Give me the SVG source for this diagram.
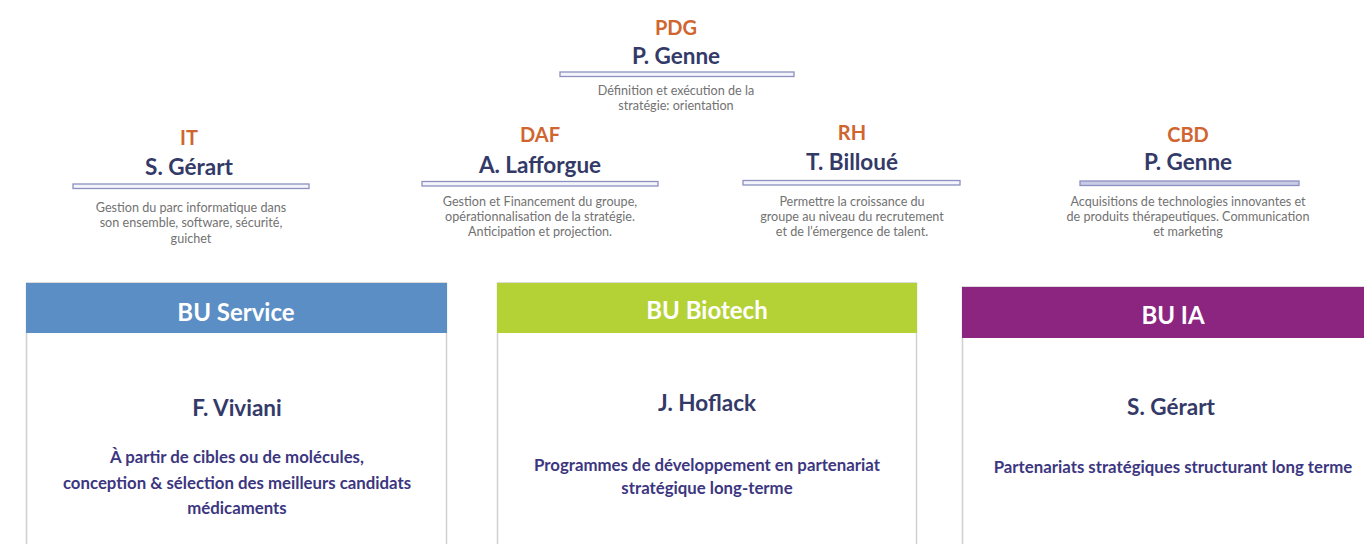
<svg xmlns="http://www.w3.org/2000/svg" width="1364" height="544" viewBox="0 0 1364 544">
<style>
text{font-family:Lato,"Open Sans","Liberation Sans",sans-serif;text-anchor:middle}
.role{font-size:20px;font-weight:700;fill:#d0652f}
.name{font-size:22.5px;font-weight:700;fill:#343a68}
.desc{font-size:12.6px;fill:#727272}
.bar{fill:#f4f4fb;stroke:#8d90bf;stroke-width:1.3}
.hdr{font-size:24px;font-weight:700;fill:#ffffff}
.bname{font-size:22.5px;font-weight:700;fill:#343a68}
.btxt{font-size:16.8px;font-weight:700;fill:#3c3680}
.body{fill:#ffffff;stroke:#d0d0d0;stroke-width:1.5}
</style>
<rect width="1364" height="544" fill="#ffffff"/>
<g id="connectors"/>
<g id="pdg">
<text class="role" x="676" y="35">PDG</text>
<text class="name" x="676" y="64">P. Genne</text>
<rect class="bar" x="560" y="72" width="234" height="4.5"/>
<text class="desc" x="676" y="95">Définition et exécution de la</text>
<text class="desc" x="676" y="110">stratégie: orientation</text>
</g>
<g id="it">
<text class="role" x="189" y="145">IT</text>
<text class="name" x="189" y="175">S. Gérart</text>
<rect class="bar" x="73" y="184" width="236" height="4.5"/>
<text class="desc" x="191" y="212">Gestion du parc informatique dans</text>
<text class="desc" x="191" y="227">son ensemble, software, sécurité,</text>
<text class="desc" x="191" y="243">guichet</text>
</g>
<g id="daf">
<text class="role" x="540" y="142">DAF</text>
<text class="name" x="540" y="173">A. Lafforgue</text>
<rect class="bar" x="422" y="181.5" width="236" height="4.5"/>
<text class="desc" x="540" y="206">Gestion et Financement du groupe,</text>
<text class="desc" x="540" y="221">opérationnalisation de la stratégie.</text>
<text class="desc" x="540" y="236">Anticipation et projection.</text>
</g>
<g id="rh">
<text class="role" x="852" y="140">RH</text>
<text class="name" x="852" y="170">T. Billoué</text>
<rect class="bar" x="743" y="180.5" width="217" height="4.5"/>
<text class="desc" x="852" y="206">Permettre la croissance du</text>
<text class="desc" x="852" y="221">groupe au niveau du recrutement</text>
<text class="desc" x="852" y="236">et de l’émergence de talent.</text>
</g>
<g id="cbd">
<text class="role" x="1188" y="142">CBD</text>
<text class="name" x="1188" y="170">P. Genne</text>
<rect class="bar" x="1080" y="181" width="219" height="4.5" style="fill:#c9cae6"/>
<text class="desc" x="1188" y="206">Acquisitions de technologies innovantes et</text>
<text class="desc" x="1188" y="221">de produits thérapeutiques. Communication</text>
<text class="desc" x="1188" y="236">et marketing</text>
</g>
<g id="bu-service">
<rect class="body" x="26.5" y="283" width="420" height="270"/>
<rect x="26" y="283" width="421" height="50" fill="#5b8ec4"/>
<text class="hdr" x="236" y="321">BU Service</text>
<text class="bname" x="237" y="416">F. Viviani</text>
<text class="btxt" x="237" y="463">À partir de cibles ou de molécules,</text>
<text class="btxt" x="237" y="489">conception &amp; sélection des meilleurs candidats</text>
<text class="btxt" x="237" y="514">médicaments</text>
</g>
<g id="bu-biotech">
<rect class="body" x="497.5" y="283" width="419" height="270"/>
<rect x="497" y="283" width="420" height="50" fill="#b4d236"/>
<text class="hdr" x="707" y="319">BU Biotech</text>
<text class="bname" x="707" y="411">J. Hoflack</text>
<text class="btxt" x="707" y="471">Programmes de développement en partenariat</text>
<text class="btxt" x="707" y="494">stratégique long-terme</text>
</g>
<g id="bu-ia">
<rect class="body" x="962.5" y="287" width="420" height="270"/>
<rect x="962" y="287" width="410" height="51" fill="#8b2580"/>
<text class="hdr" x="1173" y="324">BU IA</text>
<text class="bname" x="1171" y="415">S. Gérart</text>
<text class="btxt" x="1173" y="473">Partenariats stratégiques structurant long terme</text>
</g>
</svg>
